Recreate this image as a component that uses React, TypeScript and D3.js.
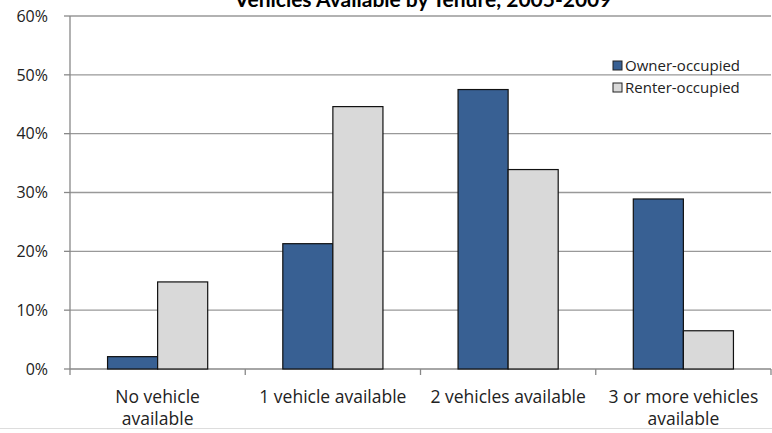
import React from "react";
import * as d3 from "d3";

const categories = [
  ["No vehicle", "available"],
  ["1 vehicle available"],
  ["2 vehicles available"],
  ["3 or more vehicles", "available"],
];
const seriesNames = ["Owner-occupied", "Renter-occupied"];
const ownerValues = [2.1, 21.3, 47.5, 28.9];
const renterValues = [14.8, 44.6, 33.9, 6.5];
const yTicks = [0, 10, 20, 30, 40, 50, 60];
const title = "Vehicles Available by Tenure, 2005-2009";

const W = 772;
const H = 433;
const FONT = "'Open Sans', sans-serif";

export default function App() {
  const left = 70;
  const right = 771;
  const top = 16;
  const bottom = 369;
  const x = d3
    .scaleBand<number>()
    .domain(categories.map((_, i) => i))
    .range([left, right])
    .paddingInner(0)
    .paddingOuter(0);
  const y = d3.scaleLinear().domain([0, 60]).range([bottom, top]);
  const bw = x.bandwidth();
  const barW = bw / 3.5;
  const offset = (bw * 0.75) / 3.5;
  const colors = ["#386093", "#d9d9d9"];
  const series = [ownerValues, renterValues];

  return (
    <svg
      width={W}
      height={H}
      style={{ position: "absolute", left: 0, top: 0, background: "#fff" }}
      fontFamily={FONT}
    >
      <rect x={0} y={0} width={W} height={H} fill="#fff" />
      <text
        x={423}
        y={7}
        textAnchor="middle"
        fontSize={21}
        fontWeight="bold"
        fontFamily="Lato, sans-serif"
        fill="#000"
      >
        {title}
      </text>
      {yTicks.map((t) => (
        <g key={t}>
          <line
            x1={left}
            x2={right}
            y1={y(t)}
            y2={y(t)}
            stroke={t === 0 ? "#888" : "#999"}
            strokeWidth={1.3}
          />
          <line x1={left - 6} x2={left} y1={y(t)} y2={y(t)} stroke="#888" strokeWidth={1.3} />
          <text
            x={48}
            y={y(t)}
            dy="0.36em"
            textAnchor="end"
            fontSize={16}
            fill="#222"
          >
            {t + "%"}
          </text>
        </g>
      ))}
      <line x1={left} x2={left} y1={top} y2={bottom} stroke="#888" strokeWidth={1.3} />
      {categories.map((_, i) => (
        <line
          key={"t" + i}
          x1={x(i)!}
          x2={x(i)!}
          y1={bottom}
          y2={bottom + 6}
          stroke="#888"
          strokeWidth={1.3}
        />
      ))}
      <line x1={right} x2={right} y1={bottom} y2={bottom + 6} stroke="#888" strokeWidth={1.3} />
      {series.map((vals, s) =>
        vals.map((v, i) => (
          <rect
            key={s + "-" + i}
            x={x(i)! + offset + s * barW}
            y={y(v)}
            width={barW}
            height={bottom - y(v)}
            fill={colors[s]}
            stroke="#111"
            strokeWidth={1.2}
          />
        ))
      )}
      {categories.map((lines, i) =>
        lines.map((l, j) => (
          <text
            key={"c" + i + j}
            x={x(i)! + bw / 2}
            y={397 + j * 22}
            dy="0.35em"
            textAnchor="middle"
            fontSize={17.5}
            fill="#222"
          >
            {l}
          </text>
        ))
      )}
      {seriesNames.map((n, s) => (
        <g key={n} transform={`translate(613, ${61 + s * 22})`}>
          <rect x={0} y={0} width={9} height={9} fill={colors[s]} stroke="#222" strokeWidth={1} />
          <text x={12} y={4.5} dy="0.35em" fontSize={15} fill="#222">
            {n}
          </text>
        </g>
      ))}
      <line x1={0} x2={W} y1={428.5} y2={428.5} stroke="#ddd" strokeWidth={1} />
    </svg>
  );
}
